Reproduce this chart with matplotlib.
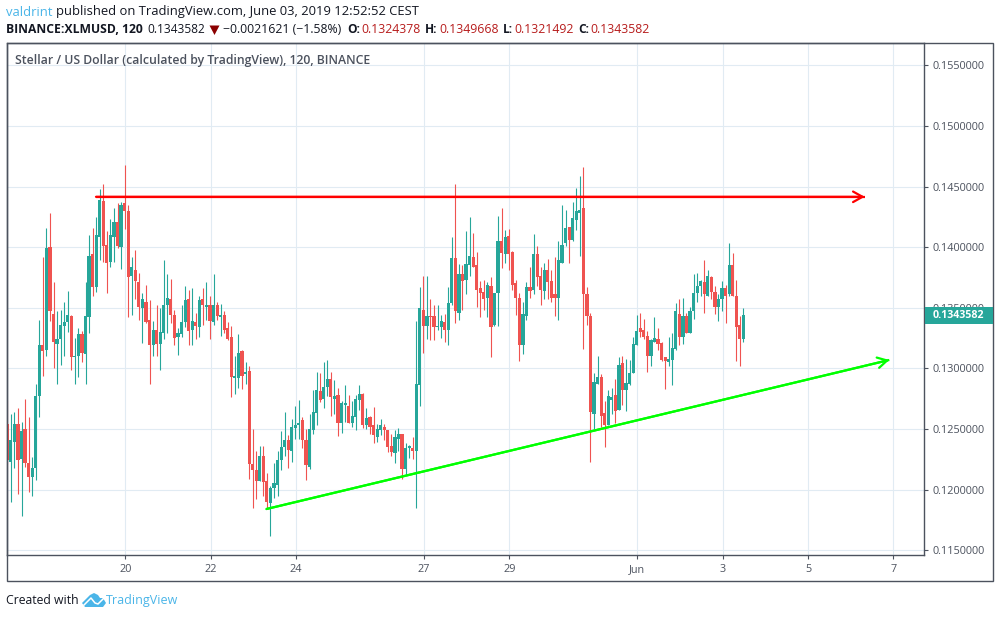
import matplotlib
matplotlib.use("Agg")
import matplotlib.pyplot as plt
from matplotlib.patches import Rectangle, Polygon

W, H = 999, 618

opens = [.1254,.1223,.1239,.1254,.1225,.1250,.1222,.1210,.1218,.1277,.1319,.1315,.1400,.1345,.1320,.1324,.1335,.1338,.1343,.1309,.1310,.1328,.1312,.1342,.1394,.1367,.1408,.1438,.1402,.1388,.1408,.1421,.1400,.1436,.1430,.1376,.1381,.1371,.1350,.1355,.1340,.1319,.1332,.1320,.1329,.1352,.1357,.1344,.1326,.1328,.1338,.1357,.1332,.1338,.1334,.1357,.1351,.1352,.1338,.1352,.1342,.1344,.1333,.1326,.1292,.1292,.1314,.1295,.1298,.1221,.1216,.1207,.1228,.1207,.1189,.1201,.1204,.1224,.1235,.1241,.1232,.1251,.1253,.1257,.1241,.1219,.1249,.1263,.1281,.1275,.1285,.1291,.1275,.1278,.1255,.1270,.1269,.1255,.1260,.1274,.1279,.1253,.1260,.1253,.1243,.1249,.1252,.1249,.1236,.1230,.1242,.1246,.1217,.1234,.1234,.1232,.1286,.1348,.1335,.1343,.1343,.1334,.1334,.1338,.1332,.1354,.1391,.1346,.1378,.1373,.1385,.1392,.1385,.1366,.1363,.1358,.1368,.1336,.1362,.1405,.1394,.1409,.1396,.1370,.1358,.1319,.1343,.1367,.1365,.1394,.1376,.1364,.1381,.1372,.1361,.1358,.1387,.1403,.1417,.1406,.1422,.1428,.1432,.1361,.1343,.1262,.1287,.1293,.1263,.1253,.1274,.1278,.1266,.1304,.1282,.1287,.1296,.1319,.1333,.1332,.1327,.1310,.1322,.1324,.1321,.1309,.1305,.1307,.1316,.1345,.1326,.1343,.1329,.1347,.1362,.1368,.1371,.1360,.1375,.1363,.1351,.1357,.1366,.1361,.1385,.1360,.1336,.1324]
highs = [.1274,.1262,.1264,.1267,.1256,.1275,.1260,.1227,.1287,.1340,.1392,.1416,.1428,.1371,.1347,.1348,.1355,.1364,.1344,.1325,.1333,.1331,.1371,.1410,.1416,.1425,.1448,.1452,.1413,.1423,.1432,.1436,.1437,.1468,.1435,.1392,.1398,.1379,.1362,.1369,.1356,.1339,.1352,.1350,.1389,.1378,.1374,.1348,.1333,.1352,.1368,.1365,.1366,.1346,.1360,.1366,.1371,.1360,.1378,.1355,.1353,.1347,.1338,.1335,.1310,.1328,.1315,.1305,.1302,.1250,.1232,.1236,.1236,.1214,.1203,.1222,.1232,.1248,.1264,.1245,.1258,.1269,.1274,.1260,.1250,.1262,.1282,.1297,.1296,.1305,.1307,.1297,.1290,.1284,.1273,.1286,.1278,.1273,.1278,.1286,.1280,.1267,.1261,.1268,.1254,.1258,.1254,.1249,.1246,.1249,.1251,.1246,.1238,.1237,.1243,.1339,.1367,.1376,.1376,.1357,.1352,.1352,.1344,.1345,.1367,.1408,.1452,.1386,.1385,.1413,.1425,.1412,.1396,.1372,.1373,.1371,.1375,.1362,.1426,.1432,.1414,.1415,.1397,.1373,.1362,.1355,.1371,.1384,.1411,.1401,.1384,.1387,.1390,.1381,.1392,.1405,.1435,.1431,.1417,.1437,.1449,.1459,.1466,.1367,.1346,.1296,.1310,.1295,.1273,.1282,.1284,.1291,.1309,.1310,.1308,.1307,.1326,.1344,.1346,.1341,.1331,.1324,.1342,.1333,.1322,.1309,.1326,.1329,.1354,.1357,.1358,.1346,.1351,.1378,.1379,.1373,.1389,.1381,.1376,.1368,.1361,.1372,.1369,.1403,.1395,.1373,.1343,.1350]
lows = [.1221,.1190,.1218,.1196,.1178,.1219,.1198,.1195,.1208,.1260,.1294,.1310,.1339,.1300,.1287,.1303,.1310,.1330,.1299,.1287,.1293,.1305,.1287,.1329,.1360,.1363,.1389,.1388,.1362,.1384,.1388,.1399,.1382,.1415,.1342,.1344,.1357,.1340,.1321,.1337,.1287,.1310,.1310,.1299,.1324,.1329,.1337,.1319,.1311,.1326,.1334,.1319,.1319,.1324,.1326,.1336,.1340,.1324,.1336,.1340,.1327,.1329,.1323,.1276,.1279,.1284,.1283,.1287,.1209,.1185,.1192,.1207,.1195,.1185,.1162,.1193,.1195,.1216,.1228,.1218,.1223,.1242,.1242,.1234,.1208,.1217,.1246,.1253,.1272,.1267,.1277,.1261,.1262,.1244,.1247,.1256,.1255,.1252,.1249,.1266,.1251,.1250,.1246,.1238,.1239,.1245,.1241,.1231,.1228,.1222,.1232,.1209,.1212,.1226,.1225,.1185,.1269,.1313,.1324,.1323,.1323,.1332,.1325,.1322,.1319,.1352,.1337,.1340,.1348,.1361,.1376,.1384,.1351,.1342,.1348,.1342,.1309,.1335,.1335,.1383,.1387,.1381,.1365,.1344,.1306,.1312,.1340,.1358,.1361,.1368,.1352,.1357,.1357,.1355,.1343,.1340,.1387,.1401,.1387,.1405,.1414,.1393,.1316,.1336,.1223,.1250,.1287,.1252,.1235,.1253,.1262,.1255,.1266,.1270,.1265,.1286,.1296,.1319,.1326,.1324,.1297,.1302,.1322,.1315,.1306,.1283,.1302,.1286,.1315,.1319,.1320,.1329,.1329,.1341,.1355,.1360,.1346,.1360,.1357,.1345,.1339,.1347,.1337,.1360,.1360,.1306,.1302,.1322]
closes = [.1224,.1241,.1254,.1224,.1248,.1222,.1210,.1218,.1277,.1319,.1314,.1399,.1347,.1322,.1324,.1336,.1338,.1344,.1309,.1310,.1328,.1313,.1343,.1393,.1367,.1410,.1439,.1401,.1387,.1410,.1421,.1401,.1435,.1430,.1375,.1384,.1372,.1351,.1357,.1338,.1319,.1332,.1320,.1330,.1352,.1358,.1344,.1325,.1329,.1338,.1356,.1331,.1339,.1335,.1356,.1352,.1352,.1339,.1352,.1343,.1344,.1332,.1324,.1293,.1294,.1313,.1294,.1297,.1221,.1216,.1207,.1228,.1206,.1190,.1201,.1205,.1224,.1235,.1241,.1233,.1252,.1253,.1255,.1241,.1220,.1250,.1264,.1282,.1274,.1285,.1291,.1276,.1277,.1255,.1271,.1271,.1255,.1261,.1275,.1279,.1253,.1259,.1252,.1245,.1250,.1253,.1249,.1235,.1231,.1243,.1246,.1217,.1234,.1236,.1232,.1287,.1350,.1335,.1343,.1342,.1334,.1335,.1339,.1332,.1354,.1391,.1347,.1378,.1372,.1386,.1393,.1384,.1365,.1362,.1357,.1369,.1334,.1362,.1405,.1395,.1408,.1394,.1369,.1358,.1319,.1345,.1367,.1364,.1394,.1375,.1365,.1381,.1371,.1358,.1358,.1389,.1402,.1416,.1406,.1424,.1430,.1431,.1361,.1343,.1264,.1289,.1293,.1261,.1253,.1277,.1276,.1265,.1303,.1282,.1288,.1296,.1320,.1331,.1330,.1326,.1310,.1323,.1325,.1320,.1307,.1306,.1308,.1317,.1347,.1326,.1343,.1329,.1347,.1362,.1368,.1372,.1361,.1376,.1363,.1351,.1357,.1366,.1360,.1385,.1360,.1334,.1324,.1344]
price_ticks = [.115, .120, .125, .130, .135, .140, .145, .150, .155]
date_positions = [0, 2, 4, 7, 9, 12, 14, 16, 18]
date_labels = ["20", "22", "24", "27", "29", "Jun", "3", "5", "7"]
first_candle_day = -2.765
candles_per_day = 12
resistance_days = [-0.687, 17.33]
resistance_prices = [.14415, .14415]
support_days = [3.305, 17.905]
support_prices = [.11839, .13069]
last_price = .1343582

UP, DOWN = "#26a69a", "#ef5350"
INK, GRID, BLUE = "#4c525e", "#e1ebf3", "#4ab5e8"
FONT = "Open Sans"
plt.rcParams["font.family"] = [FONT, "DejaVu Sans"]

fig = plt.figure(figsize=(W / 100, H / 100), dpi=100, facecolor="white")
L, R, T, B = 6.5, 924.3, 43.0, 554.5
ax = fig.add_axes([L / W, 1 - B / H, (R - L) / W, (B - T) / H])
ax.set_xlim(-2.784, 18.725)
ax.set_ylim(.11464, .15684)
ax.set_axisbelow(True)
ax.grid(True, color=GRID, lw=0.8)
for s in ax.spines.values():
    s.set_color(INK)
    s.set_linewidth(1.0)

ax.yaxis.tick_right()
ax.set_yticks(price_ticks)
ax.set_yticklabels([f"{p:.7f}" for p in price_ticks])
ax.set_xticks(date_positions)
ax.set_xticklabels(date_labels)
ax.tick_params(axis="y", length=3, width=0.8, color=INK, labelcolor=INK, labelsize=7.8, pad=3.2)
ax.tick_params(axis="x", length=3, width=0.8, color=INK, labelcolor=INK, labelsize=7.8, pad=4.2)

xs = [first_candle_day + i / candles_per_day for i in range(len(opens))]
colors = [UP if c >= o else DOWN for o, c in zip(opens, closes)]
ax.vlines(xs, lows, highs, colors=colors, lw=0.8, zorder=3)
ax.bar(xs, [abs(c - o) for o, c in zip(opens, closes)],
       bottom=[min(o, c) for o, c in zip(opens, closes)],
       width=3.2 / 42.67, color=colors, lw=0, zorder=3)


def trend(days, prices, color):
    ax.plot(days, prices, color=color, lw=1.6, zorder=4, solid_capstyle="butt")
    ax.annotate("", xy=(days[1], prices[1]), xytext=(days[0], prices[0]), zorder=4,
                arrowprops=dict(arrowstyle="->,head_length=0.68,head_width=0.38",
                                color=color, lw=1.6, shrinkA=0, shrinkB=0))


trend(resistance_days, resistance_prices, "#ff0000")
trend(support_days, support_prices, "#00ff00")

fig.text(15 / W, 1 - 60.5 / H, "Stellar / US Dollar (calculated by TradingView), 120, BINANCE",
         color=INK, fontsize=8.85, fontweight="semibold", va="center", ha="left", zorder=6)

# outer frame and last-price tag
fig.add_artist(Rectangle((6.5 / W, 1 - 581 / H), 986 / W, 538 / H, transform=fig.transFigure,
                         fill=False, edgecolor=INK, lw=1.0, zorder=2))
tag_y = 1 - (B - (last_price - .11464) / (.15684 - .11464) * (B - T)) / H
fig.add_artist(Rectangle((924.5 / W, tag_y - 8.4 / H), 68 / W, 16.8 / H, transform=fig.transFigure,
                         facecolor=UP, edgecolor="none", zorder=5))
fig.text(933 / W, tag_y, f"{last_price:.7f}", color="white", fontsize=7.7, fontweight="bold",
         va="center", ha="left", zorder=6)


def label(x, y, s, color="#131722", weight="normal", size=8.6):
    fig.text(x / W, 1 - y / H, s, color=color, fontsize=size, fontweight=weight,
             va="center", ha="left", zorder=6)


label(6, 12, "valdrint", BLUE, size=9.35)
label(56, 12, "published on TradingView.com, June 03, 2019 12:52:52 CEST", size=9.35)
label(6, 29.5, "BINANCE:XLMUSD, 120", weight="bold", size=8.7)
label(147, 29.5, "0.1343582")
fig.add_artist(Polygon([(209.5 / W, 1 - 25.5 / H), (219.5 / W, 1 - 25.5 / H), (214.5 / W, 1 - 35 / H)],
                       transform=fig.transFigure, facecolor="#8b0000", edgecolor="none"))
label(223, 29.5, "\u22120.0021621 (\u22121.58%)", size=8.8)
label(347, 29.5, "O:", weight="bold")
label(361, 29.5, "0.1324378", "#b71c1c", size=8.8)
label(425, 29.5, "H:", weight="bold")
label(439, 29.5, "0.1349668", "#b71c1c", size=8.8)
label(503, 29.5, "L:", weight="bold")
label(514, 29.5, "0.1321492", "#b71c1c", size=8.8)
label(578, 29.5, "C:", weight="bold")
label(590, 29.5, "0.1343582", "#b71c1c", size=8.8)
label(6, 600.5, "Created with", size=8.8)
label(106, 600.5, "TradingView", BLUE, size=9.0)
logo = [(82, 603), (90, 595), (94, 593), (98, 595), (100, 598), (103, 598), (106, 603), (103, 607),
        (85, 607)]
fig.add_artist(Polygon([(x / W, 1 - y / H) for x, y in logo], transform=fig.transFigure,
                       facecolor=BLUE, edgecolor="none"))
fig.add_artist(plt.Line2D([c / W for c in (84, 91, 95, 98, 104)],
                          [1 - c / H for c in (605, 598, 603, 604, 598)],
                          color="white", lw=1.1, transform=fig.transFigure))

fig.savefig("out.png", dpi=100)
